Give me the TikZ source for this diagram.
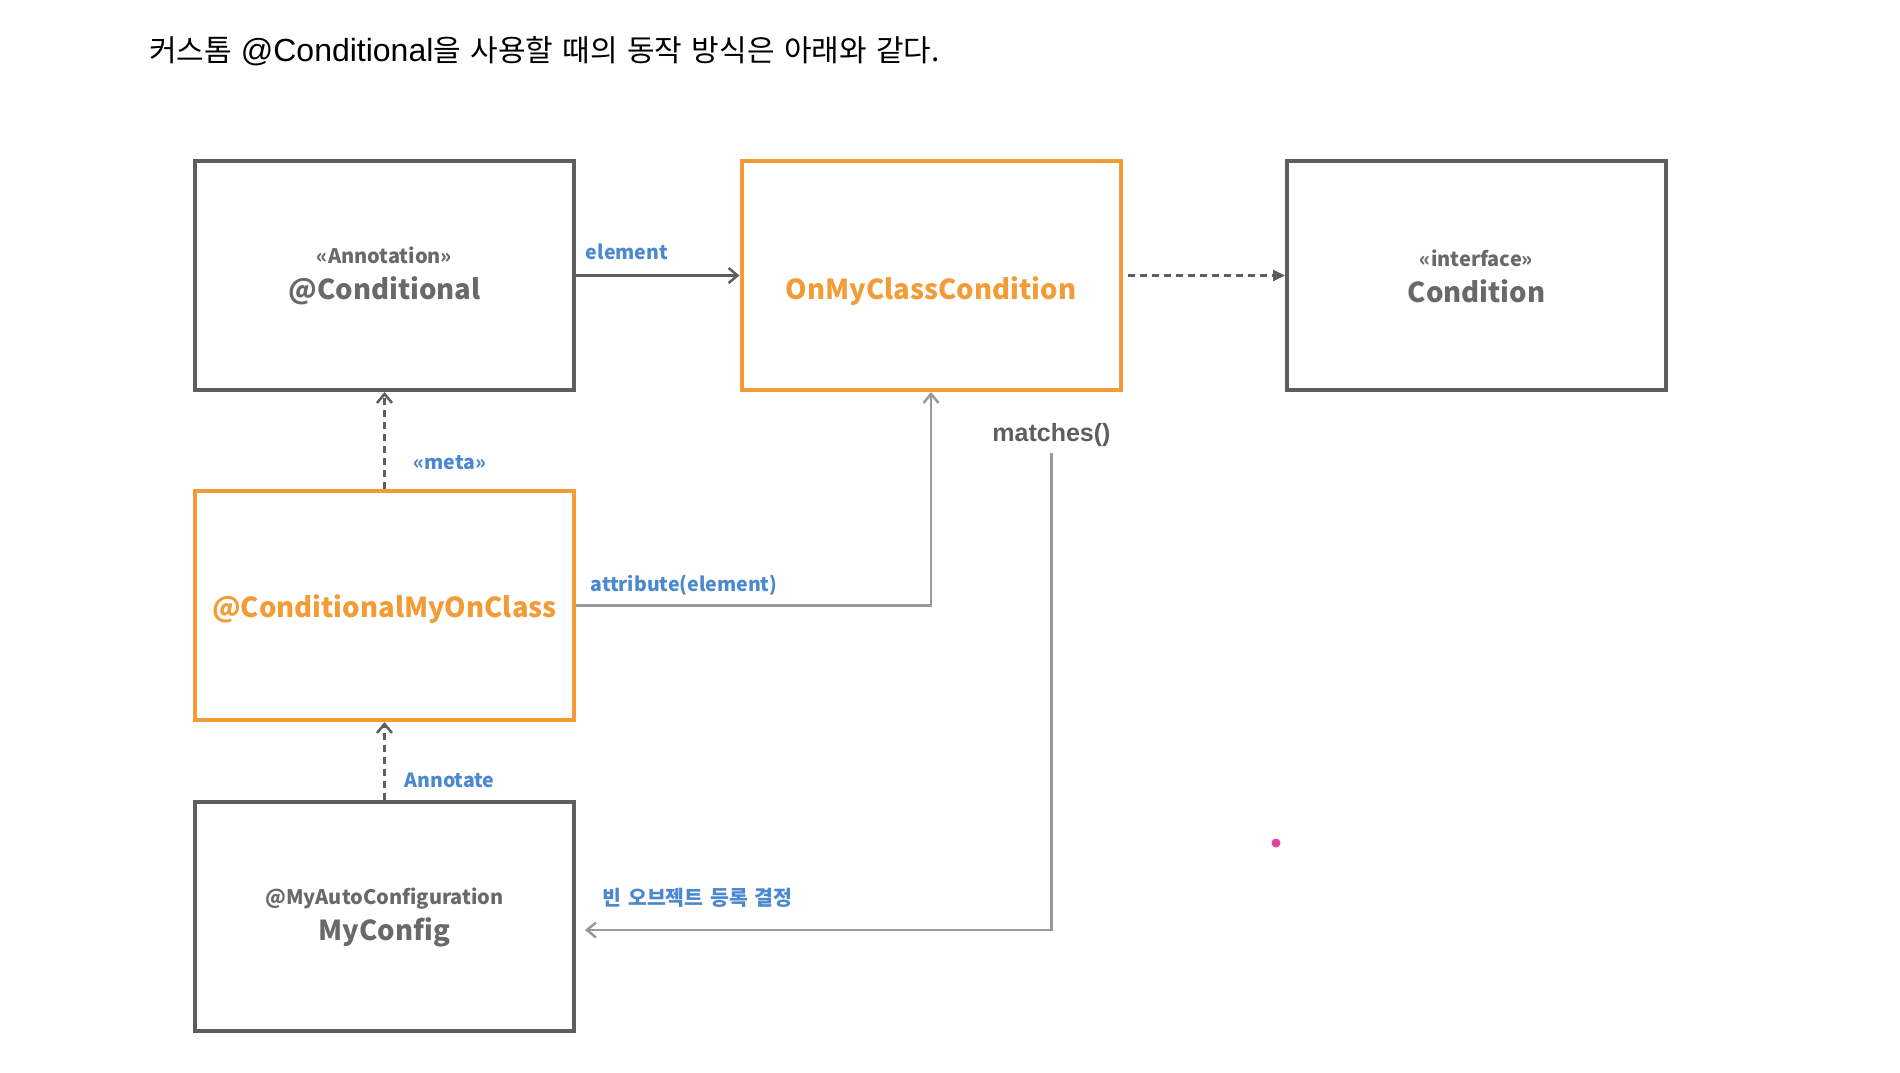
\documentclass[tikz,border=0pt]{standalone}
\usepackage{fontspec}
\setmainfont{Liberation Sans}
\newfontfamily\krfont[WordSpace=1.4]{Noto Sans CJK KR}
\usetikzlibrary{arrows.meta}
\definecolor{boxgray}{RGB}{94,94,94}
\definecolor{hotorange}{RGB}{242,156,56}
\definecolor{txtgray}{RGB}{105,105,105}
\definecolor{lblblue}{RGB}{74,136,208}
\definecolor{wiregray}{RGB}{154,154,154}
\definecolor{dotpink}{RGB}{222,70,155}
\newcommand\stfont{\krfont\fontsize{20}{26}\selectfont}
\newcommand\nmfont{\krfont\bfseries\fontsize{27.5}{36}\selectfont}
\newcommand\lbfont{\krfont\bfseries\fontsize{19.5}{24}\selectfont}
\newcommand\kr[1]{{\krfont\fontsize{30}{36}\selectfont #1}}
\begin{document}
\begin{tikzpicture}[x=1pt, y=-1pt,
    box/.style={draw=boxgray, line width=4pt, minimum width=379pt, minimum height=229pt,
        align=center, text=txtgray, font=\nmfont, inner sep=0pt},
    hotbox/.style={box, draw=hotorange, text=hotorange},
    lbl/.style={text=lblblue, font=\lbfont, inner sep=0pt},
    link/.style={boxgray, line width=2.5pt, -{Straight Barb[length=9pt, width=15pt]}},
    metalink/.style={link, dash pattern=on 7pt off 5pt},
    wire/.style={link, wiregray},
    implements/.style={boxgray, line width=2.5pt, dash pattern=on 7pt off 5pt,
        -{Triangle[length=12pt, width=11pt]}}]
    \fill[white] (0,0) rectangle (1900,1072);
    \useasboundingbox (0,0) rectangle (1900,1072);

    \node[anchor=base west, inner sep=0pt] (head) at (149,61)
        {\fontsize{32}{38}\selectfont\kr{커스톰} @Conditional\kr{을 사용할 때의 동작 방식은 아래와 같다.}};

    \node[box] (anno) at (384.5,275.5) {{\stfont\strut«Annotation»}\\@Conditional};
    \node[hotbox] (check) at (931,275.5) {{\stfont\strut}\\OnMyClassCondition};
    \node[box] (iface) at (1476.5,275.5) {{\stfont\strut«interface»}\\Condition};
    \node[hotbox, text height=30pt, text depth=6pt] (meta) at (384.5,605.5) {@ConditionalMyOnClass};
    \node[box] (cfg) at (384.5,916.5) {{\stfont\strut @MyAutoConfiguration}\\MyConfig};

    \node[lbl] (elem) at (627,252) {element};
    \node[lbl] (metalbl) at (450,463) {«meta»};
    \node[lbl] (attr) at (684,585) {attribute(element)};
    \node[lbl] (annolbl) at (449.5,780) {Annotate};
    \node[lbl, font=\krfont\bfseries\fontsize{20.5}{24}\selectfont] (decidelbl) at (697.5,898) {빈 오브젝트 등록 결정};
    \node[text=boxgray, font=\bfseries\fontsize{25}{30}\selectfont, inner sep=0pt] (match) at (1051.5,435) {matches()};
    \coordinate (decide) at (585,930);

    \draw[link] (anno) -- (check);
    \draw[implements, shorten <=5pt] (check) -- (iface);
    \draw[metalink] (meta) -- (anno);
    \draw[metalink] (cfg) -- (meta);
    \draw[wire] (meta.east) -| (check.south);
    \draw[wire, shorten <=6pt] (match.south) |- (decide);

    \fill[dotpink] (1276,843) circle[radius=4.5pt];
\end{tikzpicture}
\end{document}
